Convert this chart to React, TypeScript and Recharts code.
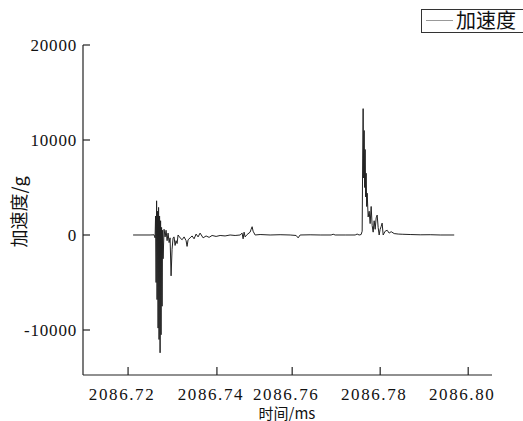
import React from "react";
import { LineChart, Line, XAxis, YAxis } from "recharts";

// time in ms
const time = [
  2086.72118, 2086.72518, 2086.72612, 2086.72635, 2086.72647, 2086.72659,
  2086.72671, 2086.72682, 2086.72694, 2086.72706, 2086.72718, 2086.72729,
  2086.72741, 2086.72753, 2086.72765, 2086.72776, 2086.72788, 2086.728,
  2086.72812, 2086.72824, 2086.72847, 2086.72871, 2086.72894, 2086.72918,
  2086.72941, 2086.72965, 2086.72988, 2086.73012, 2086.73035, 2086.73059,
  2086.73082, 2086.73106, 2086.73129, 2086.73153, 2086.73176, 2086.73224,
  2086.73271, 2086.73318, 2086.73365, 2086.73388, 2086.73412, 2086.73459,
  2086.73506, 2086.73553, 2086.736, 2086.73647, 2086.73694, 2086.73765,
  2086.73835, 2086.73906, 2086.73976, 2086.74071, 2086.74165, 2086.74282,
  2086.744, 2086.74518, 2086.74635, 2086.74682, 2086.74706, 2086.74729,
  2086.74753, 2086.748, 2086.74871, 2086.74894, 2086.74918, 2086.74941,
  2086.74988, 2086.75106, 2086.75341, 2086.75576, 2086.75812, 2086.75953,
  2086.76, 2086.76047, 2086.76282, 2086.76518, 2086.76776, 2086.76824,
  2086.76871, 2086.77106, 2086.77341, 2086.77388, 2086.77435, 2086.77482,
  2086.77506, 2086.77518, 2086.77529, 2086.77541, 2086.77553, 2086.77565,
  2086.77576, 2086.77588, 2086.776, 2086.77612, 2086.77624, 2086.77647,
  2086.77671, 2086.77694, 2086.77718, 2086.77741, 2086.77765, 2086.77788,
  2086.77812, 2086.77835, 2086.77859, 2086.77882, 2086.77906, 2086.77929,
  2086.77953, 2086.77976, 2086.78, 2086.78047, 2086.78094, 2086.78141,
  2086.78188, 2086.78259, 2086.78353, 2086.78447, 2086.78635, 2086.78871,
  2086.79106, 2086.79341, 2086.79671,
];

// acceleration in g
const accel = [
  0, 0, 20, -300, 2000, -5000,
  3600, -6800, 2500, -9800, 2900, -11000,
  2000, -12400, 1500, -10500, 800, -7500,
  500, -2500, 600, -200, 500, -600,
  200, -800, -300, -4300, -1500, -300,
  -200, -1100, -600, -900, 0, -300,
  -500, -200, -600, -1200, -500, -300,
  -100, -400, 100, -200, 200, -300,
  -100, -250, -50, -150, -50, -100,
  0, -50, 0, 200, -400, 300,
  -200, 50, 300, 600, 870, 400,
  0, 50, 0, 30, 0, -50,
  -300, 0, 20, 0, 0, 80,
  0, 0, 0, 100, 0, 50,
  400, 8000, 13300, 6000, 11000, 5000,
  9000, 4000, 6500, 3000, 4400, 1900,
  2500, 1200, 3000, 1000, 300, 1500,
  600, 1800, 2100, 800, 0, 600,
  900, 1250, 0, 400, 500, 200,
  350, 150, 100, 80, 50, 20,
  30, 0, 0,
];

const xTicks = [2086.72, 2086.7409, 2086.7586, 2086.7793, 2086.8];
const xTickLabels = ["2086.72", "2086.74", "2086.76", "2086.78", "2086.80"];
const yTicks = [-10000, 0, 10000, 20000];

const data = time.map((t, i) => ({ t, a: accel[i] }));

const serif = "'Liberation Serif', 'DejaVu Serif', serif";
const cjk = "'Noto Sans CJK SC', sans-serif";

const XTick = (props: any) => {
  const { x, y, index } = props;
  return (
    <g>
      <line x1={x} y1={y} x2={x} y2={y - 8} stroke="#222" strokeWidth={1.2} />
      <text
        x={x - 6}
        y={y + 25}
        textAnchor="middle"
        style={{ fontFamily: serif, fontSize: 17, letterSpacing: 1.6 }}
        fill="#111"
      >
        {xTickLabels[index]}
      </text>
    </g>
  );
};

const YTick = (props: any) => {
  const { x, y, payload } = props;
  return (
    <g>
      <line x1={x} y1={y} x2={x + 7} y2={y} stroke="#222" strokeWidth={1.2} />
      <text
        x={x - 6}
        y={y + 6}
        textAnchor="end"
        style={{ fontFamily: serif, fontSize: 17, letterSpacing: 0.8 }}
        fill="#111"
      >
        {payload.value}
      </text>
    </g>
  );
};

export default function App() {
  return (
    <div
      style={{
        position: "absolute",
        left: 0,
        top: 0,
        width: 523,
        height: 421,
        overflow: "hidden",
        background: "#fff",
      }}
    >
      <LineChart
        width={523}
        height={421}
        data={data}
        margin={{ top: 45, right: 31, bottom: 0, left: 0 }}
      >
        <XAxis
          dataKey="t"
          type="number"
          domain={[2086.7094, 2086.8056]}
          ticks={xTicks}
          interval={0}
          allowDataOverflow
          height={46}
          tickLine={false}
          tickSize={0}
          tickMargin={0}
          tick={<XTick />}
          axisLine={{ stroke: "#222", strokeWidth: 1.2 }}
        />
        <YAxis
          type="number"
          domain={[-14737, 20000]}
          ticks={yTicks}
          interval={0}
          allowDataOverflow
          width={83}
          tickLine={false}
          tickSize={0}
          tickMargin={0}
          tick={<YTick />}
          axisLine={{ stroke: "#222", strokeWidth: 1.2 }}
        />
        <Line
          type="linear"
          dataKey="a"
          stroke="#222"
          strokeWidth={1}
          dot={false}
          isAnimationActive={false}
        />
        <text
          x={18}
          y={212}
          transform="rotate(-90 18 212)"
          textAnchor="middle"
          dominantBaseline="central"
          style={{ fontFamily: cjk, fontSize: 18 }}
          fill="#111"
        >
          加速度/g
        </text>
        <text
          x={287}
          y={419}
          textAnchor="middle"
          style={{ fontFamily: cjk, fontSize: 15 }}
          fill="#111"
        >
          时间/ms
        </text>
      </LineChart>
      <div
        style={{
          position: "absolute",
          left: 421,
          top: 9,
          width: 110,
          height: 24,
          border: "1px solid #333",
          boxSizing: "border-box",
          background: "#fff",
        }}
      >
        <div
          style={{
            position: "absolute",
            left: 4,
            top: 10,
            width: 27,
            height: 0,
            borderTop: "1px solid #999",
          }}
        />
        <div
          style={{
            position: "absolute",
            left: 34,
            top: -4,
            fontFamily: cjk,
            fontSize: 20,
            lineHeight: "28px",
            color: "#111",
            whiteSpace: "nowrap",
          }}
        >
          加速度
        </div>
      </div>
    </div>
  );
}
